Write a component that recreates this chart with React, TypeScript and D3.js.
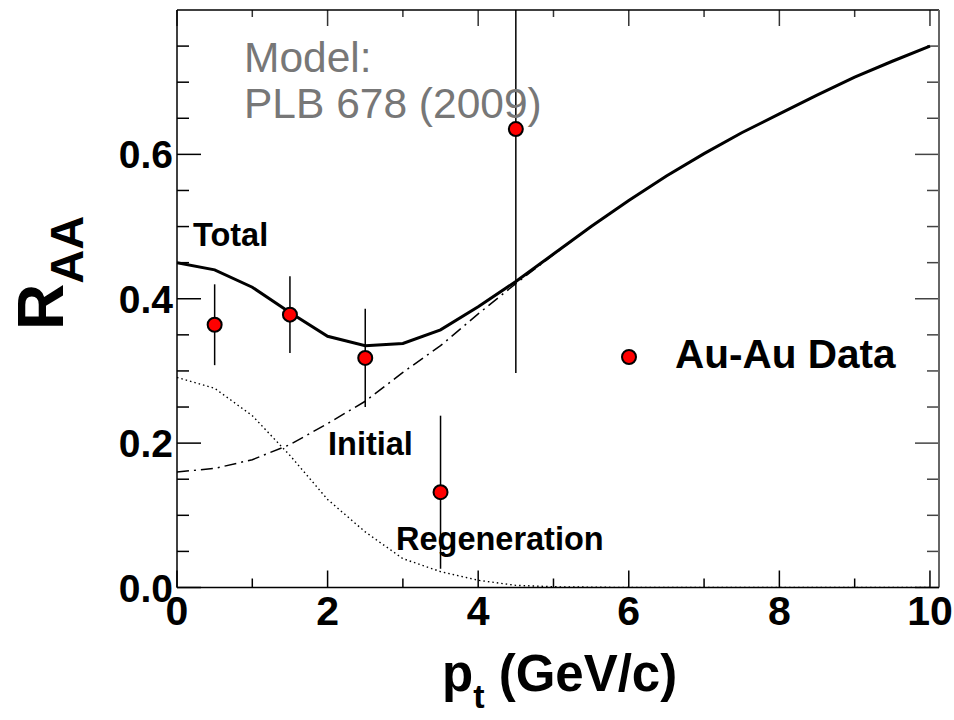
import React from "react";
import * as d3 from "d3";

// ---- data ----
const ptGrid = [0, 0.5, 1, 1.5, 2, 2.5, 3, 3.5, 4, 4.5, 5, 5.5, 6, 6.5, 7, 7.5, 8, 8.5, 9, 9.5, 10];
const totalCurve = [0.45, 0.44, 0.416, 0.381, 0.348, 0.335, 0.338, 0.357, 0.389, 0.424, 0.462, 0.5, 0.536, 0.57, 0.601, 0.63, 0.656, 0.682, 0.707, 0.729, 0.75];
const initialCurve = [0.16, 0.165, 0.177, 0.198, 0.227, 0.258, 0.298, 0.335, 0.379, 0.421, 0.461, 0.5, 0.536, 0.57, 0.601, 0.63, 0.656, 0.682, 0.707, 0.729, 0.75];
const regenCurve = [0.291, 0.276, 0.238, 0.183, 0.122, 0.077, 0.04, 0.022, 0.01, 0.003, 0.001, 0.0005, 0, 0, 0, 0, 0, 0, 0, 0, 0];

const dataPt = [0.5, 1.5, 2.5, 3.5, 4.5];
const dataRaa = [0.364, 0.378, 0.318, 0.132, 0.635];
const dataErr = [0.056, 0.053, 0.068, 0.106, 0.338];

const xMajorTicks = [0, 2, 4, 6, 8, 10];
const xMinorTicks = [1, 3, 5, 7, 9];
const yMajorTicks = [0, 0.2, 0.4, 0.6];
const yMinorTicks = [0.05, 0.1, 0.15, 0.25, 0.3, 0.35, 0.45, 0.5, 0.55, 0.65, 0.7, 0.75];

const FONT = "'Liberation Sans', Arial, Helvetica, sans-serif";

export default function App() {
  const W = 954, H = 720;
  const left = 177, right = 939, top = 10, bottom = 587.5;
  const x = d3.scaleLinear().domain([0, 10.12]).range([left, right]);
  const y = d3.scaleLinear().domain([0, 0.8]).range([bottom, top]);

  const mk = (vals: number[]) =>
    d3.line<number>().x((_, i) => x(ptGrid[i])).y((v) => y(v))(vals) || "";

  return (
    <svg width={W} height={H} style={{ position: "absolute", left: 0, top: 0, background: "#fff" }}>
      <defs>
        <clipPath id="frame">
          <rect x={left} y={top} width={right - left} height={bottom - top} />
        </clipPath>
      </defs>
      <rect x={0} y={0} width={W} height={H} fill="#fff" />

      {/* ticks */}
      {xMajorTicks.map((t) => (
        <g key={"xM" + t}>
          <line x1={x(t)} x2={x(t)} y1={bottom} y2={bottom - 17} stroke="#000" strokeWidth={1.5} />
          <line x1={x(t)} x2={x(t)} y1={top} y2={top + 16} stroke="#333" strokeWidth={1.5} />
        </g>
      ))}
      {xMinorTicks.map((t) => (
        <g key={"xm" + t}>
          <line x1={x(t)} x2={x(t)} y1={bottom} y2={bottom - 9} stroke="#000" strokeWidth={1.5} />
          <line x1={x(t)} x2={x(t)} y1={top} y2={top + 7} stroke="#333" strokeWidth={1.5} />
        </g>
      ))}
      {yMajorTicks.map((t) => (
        <g key={"yM" + t}>
          <line x1={left} x2={left + 24} y1={y(t)} y2={y(t)} stroke="#000" strokeWidth={1.5} />
          <line x1={right} x2={right - 24} y1={y(t)} y2={y(t)} stroke="#444" strokeWidth={1.5} />
        </g>
      ))}
      {yMinorTicks.map((t) => (
        <g key={"ym" + t}>
          <line x1={left} x2={left + 12} y1={y(t)} y2={y(t)} stroke="#000" strokeWidth={1.5} />
          <line x1={right} x2={right - 12} y1={y(t)} y2={y(t)} stroke="#444" strokeWidth={1.5} />
        </g>
      ))}

      {/* curves */}
      <g clipPath="url(#frame)" fill="none">
        <path d={mk(regenCurve)} stroke="#000" strokeWidth={1.4} strokeDasharray="1.5,3" />
        <path d={mk(initialCurve)} stroke="#000" strokeWidth={1.5} strokeDasharray="12,5,2,5" />
        <path d={mk(totalCurve)} stroke="#000" strokeWidth={3} />
        {dataPt.map((p, i) => (
          <line
            key={"e" + i}
            x1={x(p)}
            x2={x(p)}
            y1={y(dataRaa[i] - dataErr[i])}
            y2={y(dataRaa[i] + dataErr[i])}
            stroke="#000"
            strokeWidth={1.5}
          />
        ))}
      </g>
      {dataPt.map((p, i) => (
        <circle key={"c" + i} cx={x(p)} cy={y(dataRaa[i])} r={7} fill="#ff0000" stroke="#000" strokeWidth={2} />
      ))}

      {/* frame */}
      <line x1={left} x2={right} y1={top} y2={top} stroke="#000" strokeWidth={1.5} />
      <line x1={right} x2={right} y1={top} y2={bottom} stroke="#666" strokeWidth={2} />
      <line x1={left} x2={left} y1={top} y2={bottom} stroke="#000" strokeWidth={1.5} />
      <line x1={left} x2={right} y1={bottom} y2={bottom} stroke="#000" strokeWidth={1.5} />

      {/* tick labels */}
      <g fontFamily={FONT} fontWeight="bold" fontSize={39} fill="#000">
        {yMajorTicks.map((t) => (
          <text key={"yl" + t} x={173} y={y(t)} dy="0.36em" textAnchor="end">
            {t.toFixed(1)}
          </text>
        ))}
        {xMajorTicks.map((t) => (
          <text key={"xl" + t} x={x(t)} y={625} textAnchor="middle" fontSize={41}>
            {t}
          </text>
        ))}
      </g>

      {/* axis titles */}
      <text x={442} y={691} fontFamily={FONT} fontWeight="bold" fontSize={51} fill="#000">
        p<tspan fontSize={34} dy={17}>t</tspan>
        <tspan dy={-17}> (GeV/c)</tspan>
      </text>
      <text transform="translate(63,330) rotate(-90)" fontFamily={FONT} fontWeight="bold" fill="#000">
        <tspan fontSize={64}>R</tspan>
        <tspan fontSize={47} dy={20}>AA</tspan>
      </text>

      {/* annotations */}
      <g fontFamily={FONT} fill="#777" fontSize={42.5}>
        <text x={244} y={72}>Model:</text>
        <text x={244} y={118}>PLB 678 (2009)</text>
      </g>
      <g fontFamily={FONT} fontWeight="bold" fill="#000" fontSize={32.5}>
        <text x={193} y={246}>Total</text>
        <text x={328} y={455}>Initial</text>
        <text x={396} y={550}>Regeneration</text>
      </g>

      {/* legend */}
      <circle cx={629} cy={357} r={7} fill="#ff0000" stroke="#000" strokeWidth={2} />
      <text x={675} y={368} fontFamily={FONT} fontWeight="bold" fontSize={40.5} fill="#000">
        Au-Au Data
      </text>
    </svg>
  );
}
